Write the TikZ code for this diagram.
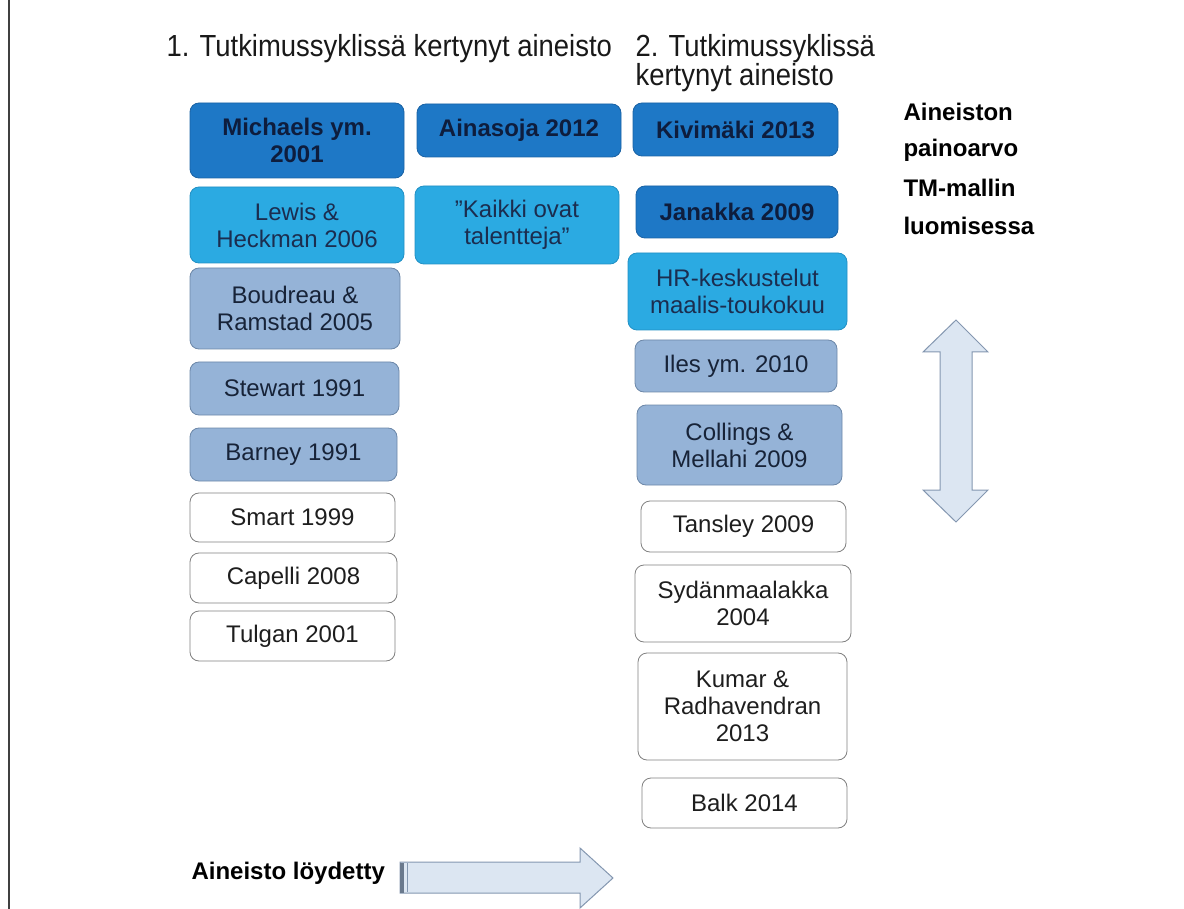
\documentclass[tikz,border=0pt]{standalone}
\usepackage{fontspec}
\setmainfont{Liberation Sans}
\newfontfamily\hdrfont{Liberation Sans}[FakeStretch=0.9]
\begin{document}
\begin{tikzpicture}[x=1pt,y=-1pt,
  box/.style={rounded corners=9pt, line width=0.8pt, align=center, inner sep=2pt,
              font=\fontsize{24}{27}\selectfont},
  darkbox/.style={box, fill=darkfill, draw=darkline, text=darktext, font=\fontsize{24}{27}\selectfont\bfseries},
  cyanbox/.style={box, fill=cyanfill, draw=cyanline, text=cyantext},
  steelbox/.style={box, fill=steelfill, draw=steelline, text=steeltext},
  whitebox/.style={box, fill=white, draw=whiteline, text=whitetext},
  header/.style={anchor=west, align=left, text=black!90, font=\hdrfont\fontsize{30.5}{28}\selectfont},
  sidelabel/.style={anchor=west, text=black, font=\fontsize{24}{27}\selectfont\bfseries},
  fatarrow/.style={fill=arrowfill, draw=arrowline, line width=1pt, line join=miter}
]
\definecolor{darkfill}{HTML}{1E78C6}
\definecolor{darkline}{HTML}{1A62A4}
\definecolor{darktext}{HTML}{0E1D3D}
\definecolor{cyanfill}{HTML}{2BAAE2}
\definecolor{cyanline}{HTML}{2190C4}
\definecolor{cyantext}{HTML}{1B2D4F}
\definecolor{steelfill}{HTML}{95B3D7}
\definecolor{steelline}{HTML}{6C87A8}
\definecolor{steeltext}{HTML}{172338}
\definecolor{whiteline}{HTML}{808080}
\definecolor{whitetext}{HTML}{1E1E1E}
\definecolor{arrowfill}{HTML}{DCE6F2}
\definecolor{arrowline}{HTML}{8497B0}

\useasboundingbox (0,0) rectangle (1184,909);
\draw[line width=1.5pt, draw=black!75] (9,0) -- (9,909);

% column headers
\node[header] (h1) at (163,49) {1. Tutkimussyklissä kertynyt aineisto};
\node[header] (h2) at (632,63) {2. Tutkimussyklissä\\kertynyt aineisto};

% first research cycle
\node[darkbox,  minimum width=214pt, minimum height=75pt] (michaels) at (297,140.5) {Michaels ym.\\2001};
\node[cyanbox,  minimum width=214pt, minimum height=76pt] (lewis)    at (297,225) {Lewis \&\\Heckman 2006};
\node[steelbox, minimum width=210pt, minimum height=81pt] (boudreau) at (295,308.5) {Boudreau \&\\Ramstad 2005};
\node[steelbox, minimum width=209pt, minimum height=53pt] (stewart)  at (294.5,388.5) {Stewart 1991};
\node[steelbox, minimum width=207pt, minimum height=53pt] (barney)   at (293.5,454.5) {Barney 1991};
\node[whitebox, minimum width=205pt, minimum height=49pt] (smart)    at (292.5,517.5) {Smart 1999};
\node[whitebox, minimum width=207pt, minimum height=50pt] (capelli)  at (293.5,578) {Capelli 2008};
\node[whitebox, minimum width=205pt, minimum height=50pt] (tulgan)   at (292.5,636) {Tulgan 2001};

% middle column
\node[darkbox,  minimum width=204pt, minimum height=53pt] (ainasoja) at (519,130.5) {Ainasoja 2012};
\node[cyanbox,  minimum width=204pt, minimum height=78pt] (kaikki)   at (517,225) {"Kaikki ovat\\talentteja"};

% second research cycle
\node[darkbox,  minimum width=205pt, minimum height=53pt] (kivimaki) at (735.5,129.5) {Kivimäki 2013};
\node[darkbox,  minimum width=202pt, minimum height=52pt] (janakka)  at (737,212) {Janakka 2009};
\node[cyanbox,  minimum width=219pt, minimum height=77pt] (hr)       at (737.5,291.5) {HR-keskustelut\\maalis-toukokuu};
\node[steelbox, minimum width=202pt, minimum height=52pt] (iles)     at (736,366) {Iles ym. 2010};
\node[steelbox, minimum width=205pt, minimum height=80pt] (collings) at (739.5,445) {Collings \&\\Mellahi 2009};
\node[whitebox, minimum width=205pt, minimum height=51pt] (tansley)  at (743.5,526.5) {Tansley 2009};
\node[whitebox, minimum width=216pt, minimum height=77pt] (sydan)    at (743,603.5) {Sydänmaalakka\\2004};
\node[whitebox, minimum width=209pt, minimum height=107pt] (kumar)   at (742.5,706.5) {Kumar \&\\Radhavendran\\2013};
\node[whitebox, minimum width=205pt, minimum height=50pt] (balk)     at (744.5,803) {Balk 2014};

% weight of the material
\node[sidelabel] (w1) at (900,112) {Aineiston};
\node[sidelabel] (w2) at (900,150) {painoarvo};
\node[sidelabel] (w3) at (900,188) {TM-mallin};
\node[sidelabel] (w4) at (900,226) {luomisessa};
\draw[fatarrow] (956,320) -- (988,352) -- (972,352) -- (972,490) -- (988,490)
  -- (956,522) -- (923,490) -- (940,490) -- (940,352) -- (923,352) -- cycle;

% time axis
\node[sidelabel] (found) at (188,873) {Aineisto löydetty};
\draw[fatarrow] (400,862) -- (580,862) -- (580,848) -- (613,878) -- (580,908)
  -- (580,893) -- (400,893) -- cycle;
\fill[arrowline!80!black] (400,862.5) rectangle (404,892.5);
\draw[arrowline, line width=0.8pt] (407,863) -- (407,892);
\end{tikzpicture}
\end{document}
